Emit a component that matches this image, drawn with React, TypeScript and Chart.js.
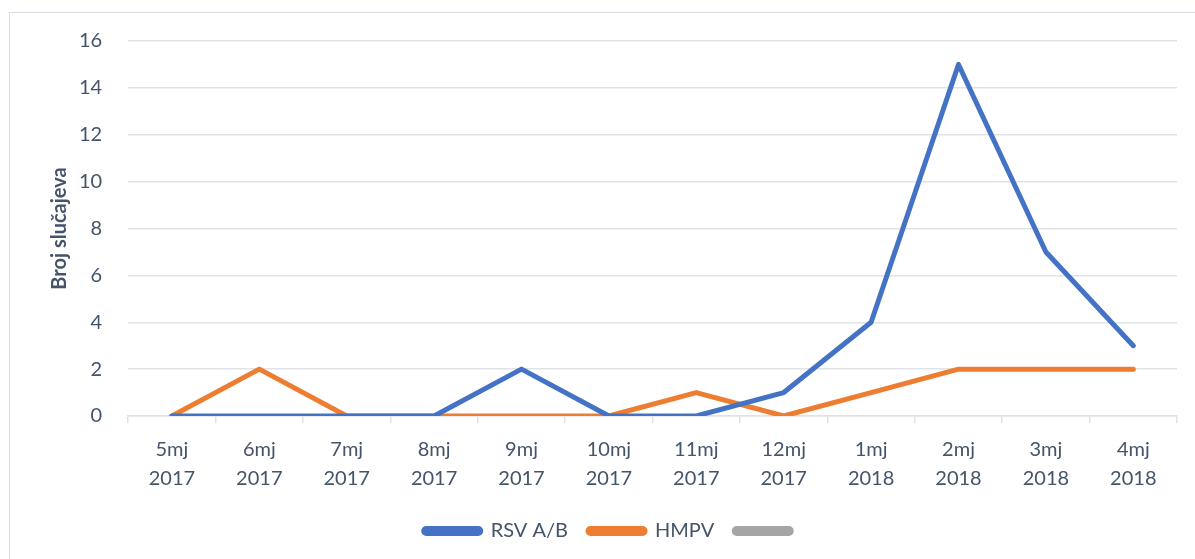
import React, { useEffect, useRef } from "react";
import { Chart, registerables } from "chart.js";

Chart.register(...registerables);

const categories: string[][] = [
  ["5mj", "2017"], ["6mj", "2017"], ["7mj", "2017"], ["8mj", "2017"],
  ["9mj", "2017"], ["10mj", "2017"], ["11mj", "2017"], ["12mj", "2017"],
  ["1mj", "2018"], ["2mj", "2018"], ["3mj", "2018"], ["4mj", "2018"],
];
const rsvValues = [0, 0, 0, 0, 2, 0, 0, 1, 4, 15, 7, 3];
const hmpvValues = [0, 2, 0, 0, 0, 0, 1, 0, 1, 2, 2, 2];
const emptyValues: (number | null)[] = [null, null, null, null, null, null, null, null, null, null, null, null];
const seriesNames = ["RSV A/B", "HMPV", ""];
const yTitle = "Broj slučajeva";

const TEXT = "#44546a";
const GRID = "#dfe3e8";
const FONT = "Lato, 'Open Sans', sans-serif";
const FS = 20;

export default function App() {
  const ref = useRef<HTMLCanvasElement | null>(null);
  useEffect(() => {
    if (!ref.current) return;
    const chart = new Chart(ref.current, {
      type: "line",
      data: {
        labels: categories,
        datasets: [
          { label: seriesNames[0], data: rsvValues, borderColor: "#4472c4", backgroundColor: "#4472c4", borderWidth: 5, pointRadius: 0, borderCapStyle: "round", borderJoinStyle: "round", tension: 0 },
          { label: seriesNames[1], data: hmpvValues, borderColor: "#ed7d31", backgroundColor: "#ed7d31", borderWidth: 5, pointRadius: 0, borderCapStyle: "round", borderJoinStyle: "round", tension: 0 },
          { label: seriesNames[2], data: emptyValues, borderColor: "#a5a5a5", backgroundColor: "#a5a5a5", borderWidth: 5, pointRadius: 0 },
        ],
      },
      options: {
        animation: false,
        responsive: false,
        maintainAspectRatio: false,
        layout: { padding: { left: 48, right: 18, top: 41, bottom: 8 } },
        plugins: {
          tooltip: { enabled: false },
          legend: {
            position: "bottom",
            labels: {
              color: TEXT,
              font: { family: FONT, size: FS },
              boxWidth: 57,
              boxHeight: 5,
              useBorderRadius: true,
              borderRadius: 2.5,
              padding: 20,
            },
          },
        },
        scales: {
          x: {
            offset: true,
            grid: { offset: true, drawOnChartArea: false, drawTicks: true, tickLength: 7, color: GRID, lineWidth: 1.5 },
            border: { color: GRID, width: 1.5 },
            ticks: { color: TEXT, font: { family: FONT, size: FS, lineHeight: 1.45 }, maxRotation: 0, padding: 12 },
            afterFit: (scale: any) => { scale.height -= 4; },
          },
          y: {
            min: 0,
            max: 16,
            ticks: { stepSize: 2, color: TEXT, font: { family: FONT, size: FS }, padding: 26 },
            grid: { color: GRID, lineWidth: 1.5, drawTicks: false },
            border: { display: false },
            title: { display: true, text: yTitle, color: TEXT, font: { family: FONT, size: FS, weight: "bold" }, padding: { top: 0, bottom: -19 } },
          },
        },
      },
    });
    return () => chart.destroy();
  }, []);
  return (
    <div style={{ position: "fixed", left: 0, top: 0, width: 1195, height: 559, background: "#fff" }}>
      <div style={{ position: "absolute", left: 9, top: 12, width: 1200, height: 600, border: "1px solid #d9dde3", boxSizing: "border-box" }} />
      <canvas ref={ref} width={1195} height={559} style={{ position: "absolute", left: 0, top: 0 }} />
    </div>
  );
}
